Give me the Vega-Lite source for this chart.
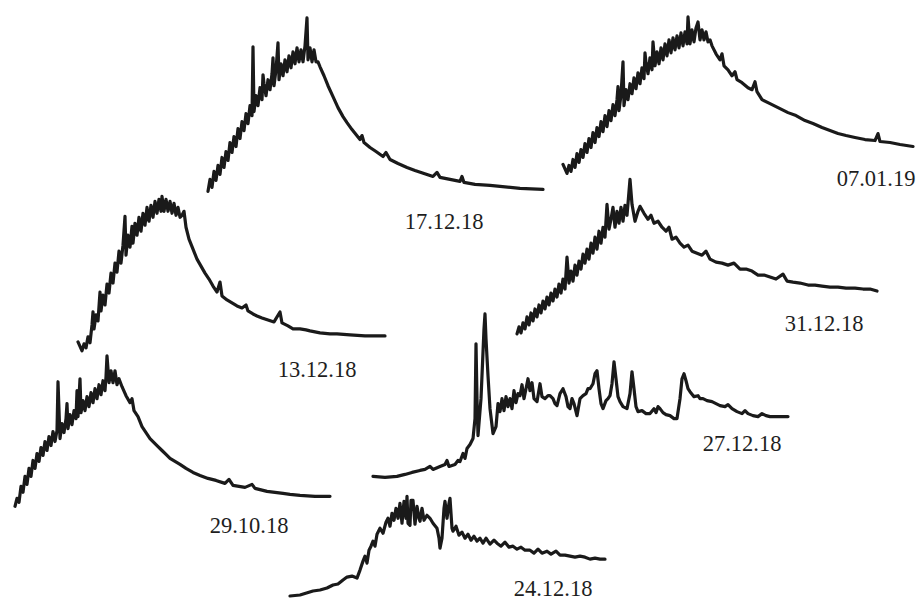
{
"$schema": "https://vega.github.io/schema/vega-lite/v6.json",
"width": 919, "height": 601,
"autosize": {"type": "fit", "contains": "padding"},
"padding": 0,
"background": "white",
"config": {"view": {"stroke": null}},
"layer": [
{
"data": {"values": [
{"s":"A","x":208,"y":192},{"s":"A","x":210,"y":180},{"s":"A","x":212,"y":188},{"s":"A","x":214,"y":172},{"s":"A","x":216,"y":181},{"s":"A","x":218,"y":166},{"s":"A","x":220,"y":175},{"s":"A","x":222,"y":158},{"s":"A","x":224,"y":168},{"s":"A","x":226,"y":152},{"s":"A","x":228,"y":161},{"s":"A","x":230,"y":143},{"s":"A","x":232,"y":153},{"s":"A","x":234,"y":137},{"s":"A","x":236,"y":147},{"s":"A","x":238,"y":129},{"s":"A","x":240,"y":139},{"s":"A","x":242,"y":122},{"s":"A","x":244,"y":131},{"s":"A","x":246,"y":114},{"s":"A","x":248,"y":124},{"s":"A","x":250,"y":106},{"s":"A","x":252,"y":116},{"s":"A","x":253,"y":47},{"s":"A","x":254,"y":112},{"s":"A","x":256,"y":96},{"s":"A","x":258,"y":106},{"s":"A","x":260,"y":88},{"s":"A","x":262,"y":100},{"s":"A","x":263,"y":75},{"s":"A","x":264,"y":84},{"s":"A","x":266,"y":96},{"s":"A","x":268,"y":80},{"s":"A","x":270,"y":90},{"s":"A","x":272,"y":74},{"s":"A","x":273,"y":58},{"s":"A","x":274,"y":86},{"s":"A","x":276,"y":70},{"s":"A","x":278,"y":43},{"s":"A","x":279,"y":80},{"s":"A","x":281,"y":64},{"s":"A","x":283,"y":76},{"s":"A","x":285,"y":60},{"s":"A","x":287,"y":72},{"s":"A","x":289,"y":56},{"s":"A","x":291,"y":68},{"s":"A","x":293,"y":52},{"s":"A","x":295,"y":64},{"s":"A","x":297,"y":48},{"s":"A","x":299,"y":62},{"s":"A","x":301,"y":50},{"s":"A","x":303,"y":62},{"s":"A","x":305,"y":46},{"s":"A","x":307,"y":18},{"s":"A","x":308,"y":60},{"s":"A","x":310,"y":48},{"s":"A","x":312,"y":62},{"s":"A","x":314,"y":50},{"s":"A","x":316,"y":62},{"s":"A","x":318,"y":62},{"s":"A","x":320,"y":67},{"s":"A","x":324,"y":76},{"s":"A","x":328,"y":86},{"s":"A","x":333,"y":97},{"s":"A","x":338,"y":108},{"s":"A","x":343,"y":117},{"s":"A","x":347,"y":123},{"s":"A","x":352,"y":130},{"s":"A","x":356,"y":135},{"s":"A","x":360,"y":140},{"s":"A","x":362,"y":136},{"s":"A","x":364,"y":143},{"s":"A","x":370,"y":148},{"s":"A","x":376,"y":152},{"s":"A","x":383,"y":157},{"s":"A","x":386,"y":153},{"s":"A","x":390,"y":160},{"s":"A","x":398,"y":164},{"s":"A","x":407,"y":168},{"s":"A","x":415,"y":171},{"s":"A","x":424,"y":174},{"s":"A","x":433,"y":177},{"s":"A","x":437,"y":173},{"s":"A","x":440,"y":178},{"s":"A","x":450,"y":180},{"s":"A","x":460,"y":182},{"s":"A","x":462,"y":177},{"s":"A","x":464,"y":183},{"s":"A","x":475,"y":185},{"s":"A","x":490,"y":186},{"s":"A","x":500,"y":187},{"s":"A","x":520,"y":189},{"s":"A","x":543,"y":190},

{"s":"B","x":563,"y":165},{"s":"B","x":567,"y":174},{"s":"B","x":569,"y":166},{"s":"B","x":571,"y":172},{"s":"B","x":573,"y":160},{"s":"B","x":575,"y":168},{"s":"B","x":577,"y":154},{"s":"B","x":579,"y":163},{"s":"B","x":581,"y":150},{"s":"B","x":583,"y":158},{"s":"B","x":585,"y":144},{"s":"B","x":587,"y":153},{"s":"B","x":589,"y":139},{"s":"B","x":591,"y":148},{"s":"B","x":593,"y":133},{"s":"B","x":595,"y":143},{"s":"B","x":597,"y":128},{"s":"B","x":599,"y":137},{"s":"B","x":601,"y":122},{"s":"B","x":603,"y":132},{"s":"B","x":605,"y":116},{"s":"B","x":607,"y":127},{"s":"B","x":609,"y":111},{"s":"B","x":611,"y":121},{"s":"B","x":613,"y":105},{"s":"B","x":615,"y":116},{"s":"B","x":617,"y":100},{"s":"B","x":618,"y":87},{"s":"B","x":619,"y":111},{"s":"B","x":621,"y":95},{"s":"B","x":623,"y":62},{"s":"B","x":624,"y":106},{"s":"B","x":626,"y":90},{"s":"B","x":628,"y":100},{"s":"B","x":630,"y":84},{"s":"B","x":632,"y":94},{"s":"B","x":634,"y":78},{"s":"B","x":636,"y":89},{"s":"B","x":638,"y":73},{"s":"B","x":640,"y":84},{"s":"B","x":642,"y":68},{"s":"B","x":644,"y":79},{"s":"B","x":645,"y":53},{"s":"B","x":646,"y":63},{"s":"B","x":648,"y":74},{"s":"B","x":650,"y":58},{"s":"B","x":652,"y":70},{"s":"B","x":653,"y":42},{"s":"B","x":655,"y":66},{"s":"B","x":657,"y":52},{"s":"B","x":659,"y":64},{"s":"B","x":661,"y":48},{"s":"B","x":663,"y":60},{"s":"B","x":665,"y":44},{"s":"B","x":667,"y":56},{"s":"B","x":669,"y":40},{"s":"B","x":671,"y":53},{"s":"B","x":673,"y":38},{"s":"B","x":675,"y":50},{"s":"B","x":677,"y":36},{"s":"B","x":679,"y":48},{"s":"B","x":681,"y":33},{"s":"B","x":683,"y":46},{"s":"B","x":685,"y":32},{"s":"B","x":687,"y":44},{"s":"B","x":688,"y":17},{"s":"B","x":690,"y":44},{"s":"B","x":692,"y":30},{"s":"B","x":694,"y":42},{"s":"B","x":696,"y":28},{"s":"B","x":698,"y":22},{"s":"B","x":700,"y":40},{"s":"B","x":702,"y":30},{"s":"B","x":704,"y":40},{"s":"B","x":706,"y":32},{"s":"B","x":708,"y":42},{"s":"B","x":710,"y":40},{"s":"B","x":712,"y":46},{"s":"B","x":716,"y":54},{"s":"B","x":720,"y":60},{"s":"B","x":722,"y":54},{"s":"B","x":724,"y":66},{"s":"B","x":728,"y":70},{"s":"B","x":732,"y":76},{"s":"B","x":735,"y":72},{"s":"B","x":737,"y":80},{"s":"B","x":742,"y":83},{"s":"B","x":748,"y":88},{"s":"B","x":752,"y":90},{"s":"B","x":755,"y":82},{"s":"B","x":757,"y":92},{"s":"B","x":762,"y":100},{"s":"B","x":770,"y":104},{"s":"B","x":778,"y":108},{"s":"B","x":788,"y":113},{"s":"B","x":796,"y":116},{"s":"B","x":805,"y":121},{"s":"B","x":813,"y":124},{"s":"B","x":822,"y":128},{"s":"B","x":830,"y":131},{"s":"B","x":838,"y":134},{"s":"B","x":846,"y":136},{"s":"B","x":855,"y":138},{"s":"B","x":865,"y":140},{"s":"B","x":875,"y":141},{"s":"B","x":878,"y":134},{"s":"B","x":880,"y":142},{"s":"B","x":890,"y":143},{"s":"B","x":900,"y":145},{"s":"B","x":913,"y":147},

{"s":"C","x":78,"y":343},{"s":"C","x":82,"y":352},{"s":"C","x":84,"y":345},{"s":"C","x":86,"y":349},{"s":"C","x":88,"y":338},{"s":"C","x":90,"y":344},{"s":"C","x":92,"y":326},{"s":"C","x":93,"y":313},{"s":"C","x":94,"y":330},{"s":"C","x":96,"y":316},{"s":"C","x":98,"y":322},{"s":"C","x":100,"y":293},{"s":"C","x":101,"y":312},{"s":"C","x":103,"y":296},{"s":"C","x":105,"y":306},{"s":"C","x":107,"y":285},{"s":"C","x":109,"y":294},{"s":"C","x":111,"y":274},{"s":"C","x":113,"y":284},{"s":"C","x":115,"y":264},{"s":"C","x":117,"y":273},{"s":"C","x":119,"y":252},{"s":"C","x":121,"y":264},{"s":"C","x":123,"y":246},{"s":"C","x":125,"y":217},{"s":"C","x":126,"y":256},{"s":"C","x":128,"y":236},{"s":"C","x":130,"y":248},{"s":"C","x":132,"y":227},{"s":"C","x":133,"y":244},{"s":"C","x":135,"y":224},{"s":"C","x":137,"y":236},{"s":"C","x":139,"y":218},{"s":"C","x":141,"y":232},{"s":"C","x":143,"y":214},{"s":"C","x":145,"y":226},{"s":"C","x":147,"y":208},{"s":"C","x":149,"y":222},{"s":"C","x":151,"y":206},{"s":"C","x":153,"y":218},{"s":"C","x":155,"y":202},{"s":"C","x":157,"y":214},{"s":"C","x":159,"y":200},{"s":"C","x":161,"y":212},{"s":"C","x":162,"y":197},{"s":"C","x":164,"y":212},{"s":"C","x":166,"y":200},{"s":"C","x":168,"y":212},{"s":"C","x":170,"y":202},{"s":"C","x":172,"y":214},{"s":"C","x":174,"y":204},{"s":"C","x":176,"y":216},{"s":"C","x":178,"y":208},{"s":"C","x":180,"y":218},{"s":"C","x":182,"y":216},{"s":"C","x":184,"y":212},{"s":"C","x":186,"y":228},{"s":"C","x":189,"y":240},{"s":"C","x":193,"y":250},{"s":"C","x":197,"y":260},{"s":"C","x":201,"y":267},{"s":"C","x":205,"y":274},{"s":"C","x":209,"y":280},{"s":"C","x":213,"y":287},{"s":"C","x":217,"y":293},{"s":"C","x":220,"y":283},{"s":"C","x":222,"y":297},{"s":"C","x":227,"y":301},{"s":"C","x":232,"y":304},{"s":"C","x":237,"y":307},{"s":"C","x":242,"y":309},{"s":"C","x":246,"y":306},{"s":"C","x":248,"y":312},{"s":"C","x":253,"y":315},{"s":"C","x":257,"y":317},{"s":"C","x":262,"y":319},{"s":"C","x":268,"y":321},{"s":"C","x":274,"y":323},{"s":"C","x":280,"y":313},{"s":"C","x":282,"y":324},{"s":"C","x":288,"y":327},{"s":"C","x":293,"y":330},{"s":"C","x":300,"y":330},{"s":"C","x":306,"y":331},{"s":"C","x":310,"y":332},{"s":"C","x":320,"y":334},{"s":"C","x":330,"y":335},{"s":"C","x":337,"y":335},{"s":"C","x":350,"y":336},{"s":"C","x":365,"y":337},{"s":"C","x":385,"y":337},

{"s":"D","x":517,"y":335},{"s":"D","x":519,"y":328},{"s":"D","x":521,"y":334},{"s":"D","x":523,"y":324},{"s":"D","x":525,"y":330},{"s":"D","x":527,"y":318},{"s":"D","x":529,"y":326},{"s":"D","x":531,"y":314},{"s":"D","x":533,"y":322},{"s":"D","x":535,"y":310},{"s":"D","x":537,"y":318},{"s":"D","x":539,"y":306},{"s":"D","x":541,"y":314},{"s":"D","x":543,"y":302},{"s":"D","x":545,"y":310},{"s":"D","x":547,"y":298},{"s":"D","x":549,"y":306},{"s":"D","x":551,"y":294},{"s":"D","x":553,"y":302},{"s":"D","x":555,"y":290},{"s":"D","x":557,"y":298},{"s":"D","x":559,"y":285},{"s":"D","x":561,"y":294},{"s":"D","x":563,"y":280},{"s":"D","x":565,"y":290},{"s":"D","x":567,"y":258},{"s":"D","x":569,"y":284},{"s":"D","x":571,"y":272},{"s":"D","x":573,"y":282},{"s":"D","x":575,"y":266},{"s":"D","x":577,"y":276},{"s":"D","x":579,"y":262},{"s":"D","x":581,"y":270},{"s":"D","x":583,"y":255},{"s":"D","x":585,"y":264},{"s":"D","x":587,"y":250},{"s":"D","x":589,"y":260},{"s":"D","x":591,"y":244},{"s":"D","x":593,"y":254},{"s":"D","x":595,"y":238},{"s":"D","x":597,"y":250},{"s":"D","x":599,"y":232},{"s":"D","x":601,"y":244},{"s":"D","x":603,"y":228},{"s":"D","x":605,"y":238},{"s":"D","x":607,"y":205},{"s":"D","x":609,"y":230},{"s":"D","x":611,"y":220},{"s":"D","x":613,"y":208},{"s":"D","x":615,"y":228},{"s":"D","x":617,"y":212},{"s":"D","x":619,"y":224},{"s":"D","x":621,"y":208},{"s":"D","x":623,"y":222},{"s":"D","x":625,"y":206},{"s":"D","x":627,"y":216},{"s":"D","x":630,"y":180},{"s":"D","x":632,"y":205},{"s":"D","x":635,"y":222},{"s":"D","x":638,"y":212},{"s":"D","x":640,"y":207},{"s":"D","x":644,"y":214},{"s":"D","x":648,"y":220},{"s":"D","x":651,"y":216},{"s":"D","x":654,"y":224},{"s":"D","x":658,"y":222},{"s":"D","x":662,"y":228},{"s":"D","x":666,"y":232},{"s":"D","x":669,"y":228},{"s":"D","x":672,"y":240},{"s":"D","x":676,"y":238},{"s":"D","x":680,"y":244},{"s":"D","x":684,"y":248},{"s":"D","x":688,"y":246},{"s":"D","x":692,"y":252},{"s":"D","x":697,"y":254},{"s":"D","x":702,"y":256},{"s":"D","x":706,"y":252},{"s":"D","x":710,"y":260},{"s":"D","x":716,"y":263},{"s":"D","x":722,"y":264},{"s":"D","x":728,"y":266},{"s":"D","x":734,"y":264},{"s":"D","x":740,"y":270},{"s":"D","x":746,"y":270},{"s":"D","x":752,"y":272},{"s":"D","x":758,"y":276},{"s":"D","x":764,"y":276},{"s":"D","x":770,"y":278},{"s":"D","x":776,"y":280},{"s":"D","x":783,"y":275},{"s":"D","x":787,"y":282},{"s":"D","x":793,"y":283},{"s":"D","x":800,"y":284},{"s":"D","x":808,"y":286},{"s":"D","x":815,"y":286},{"s":"D","x":822,"y":287},{"s":"D","x":830,"y":288},{"s":"D","x":838,"y":288},{"s":"D","x":846,"y":289},{"s":"D","x":855,"y":289},{"s":"D","x":863,"y":290},{"s":"D","x":870,"y":290},{"s":"D","x":877,"y":292},

{"s":"E","x":15,"y":508},{"s":"E","x":17,"y":500},{"s":"E","x":19,"y":504},{"s":"E","x":21,"y":488},{"s":"E","x":23,"y":494},{"s":"E","x":25,"y":478},{"s":"E","x":27,"y":486},{"s":"E","x":29,"y":470},{"s":"E","x":31,"y":478},{"s":"E","x":33,"y":462},{"s":"E","x":35,"y":470},{"s":"E","x":37,"y":455},{"s":"E","x":39,"y":463},{"s":"E","x":41,"y":449},{"s":"E","x":43,"y":457},{"s":"E","x":45,"y":443},{"s":"E","x":47,"y":452},{"s":"E","x":49,"y":438},{"s":"E","x":51,"y":447},{"s":"E","x":53,"y":433},{"s":"E","x":55,"y":443},{"s":"E","x":57,"y":432},{"s":"E","x":58,"y":383},{"s":"E","x":60,"y":440},{"s":"E","x":62,"y":425},{"s":"E","x":64,"y":434},{"s":"E","x":66,"y":420},{"s":"E","x":67,"y":405},{"s":"E","x":68,"y":430},{"s":"E","x":70,"y":416},{"s":"E","x":72,"y":426},{"s":"E","x":74,"y":412},{"s":"E","x":76,"y":420},{"s":"E","x":77,"y":392},{"s":"E","x":78,"y":418},{"s":"E","x":80,"y":380},{"s":"E","x":81,"y":414},{"s":"E","x":83,"y":402},{"s":"E","x":85,"y":412},{"s":"E","x":87,"y":398},{"s":"E","x":89,"y":408},{"s":"E","x":91,"y":394},{"s":"E","x":93,"y":404},{"s":"E","x":95,"y":390},{"s":"E","x":97,"y":400},{"s":"E","x":99,"y":386},{"s":"E","x":101,"y":396},{"s":"E","x":103,"y":382},{"s":"E","x":105,"y":392},{"s":"E","x":106,"y":378},{"s":"E","x":107,"y":357},{"s":"E","x":109,"y":384},{"s":"E","x":111,"y":372},{"s":"E","x":113,"y":384},{"s":"E","x":115,"y":372},{"s":"E","x":117,"y":386},{"s":"E","x":119,"y":380},{"s":"E","x":122,"y":388},{"s":"E","x":126,"y":397},{"s":"E","x":130,"y":404},{"s":"E","x":132,"y":400},{"s":"E","x":134,"y":412},{"s":"E","x":138,"y":418},{"s":"E","x":142,"y":428},{"s":"E","x":146,"y":434},{"s":"E","x":150,"y":440},{"s":"E","x":154,"y":444},{"s":"E","x":157,"y":447},{"s":"E","x":162,"y":452},{"s":"E","x":166,"y":456},{"s":"E","x":170,"y":460},{"s":"E","x":175,"y":463},{"s":"E","x":180,"y":466},{"s":"E","x":186,"y":470},{"s":"E","x":193,"y":474},{"s":"E","x":200,"y":477},{"s":"E","x":208,"y":480},{"s":"E","x":216,"y":482},{"s":"E","x":225,"y":485},{"s":"E","x":229,"y":481},{"s":"E","x":233,"y":487},{"s":"E","x":245,"y":489},{"s":"E","x":252,"y":486},{"s":"E","x":255,"y":490},{"s":"E","x":267,"y":493},{"s":"E","x":275,"y":494},{"s":"E","x":283,"y":495},{"s":"E","x":290,"y":496},{"s":"E","x":300,"y":497},{"s":"E","x":315,"y":498},{"s":"E","x":330,"y":498},

{"s":"F","x":373,"y":478},{"s":"F","x":385,"y":479},{"s":"F","x":397,"y":478},{"s":"F","x":405,"y":476},{"s":"F","x":412,"y":474},{"s":"F","x":420,"y":472},{"s":"F","x":425,"y":471},{"s":"F","x":430,"y":468},{"s":"F","x":433,"y":471},{"s":"F","x":440,"y":468},{"s":"F","x":445,"y":466},{"s":"F","x":447,"y":462},{"s":"F","x":449,"y":468},{"s":"F","x":455,"y":466},{"s":"F","x":458,"y":462},{"s":"F","x":460,"y":463},{"s":"F","x":463,"y":455},{"s":"F","x":465,"y":460},{"s":"F","x":467,"y":450},{"s":"F","x":470,"y":446},{"s":"F","x":473,"y":440},{"s":"F","x":475,"y":420},{"s":"F","x":476,"y":345},{"s":"F","x":477,"y":400},{"s":"F","x":478,"y":437},{"s":"F","x":481,"y":400},{"s":"F","x":484,"y":330},{"s":"F","x":485,"y":315},{"s":"F","x":486,"y":340},{"s":"F","x":488,"y":377},{"s":"F","x":490,"y":410},{"s":"F","x":493,"y":435},{"s":"F","x":496,"y":428},{"s":"F","x":498,"y":405},{"s":"F","x":500,"y":413},{"s":"F","x":502,"y":400},{"s":"F","x":504,"y":412},{"s":"F","x":506,"y":398},{"s":"F","x":508,"y":408},{"s":"F","x":510,"y":400},{"s":"F","x":512,"y":410},{"s":"F","x":514,"y":392},{"s":"F","x":516,"y":404},{"s":"F","x":518,"y":395},{"s":"F","x":520,"y":397},{"s":"F","x":522,"y":386},{"s":"F","x":524,"y":400},{"s":"F","x":526,"y":390},{"s":"F","x":528,"y":380},{"s":"F","x":530,"y":392},{"s":"F","x":532,"y":384},{"s":"F","x":534,"y":400},{"s":"F","x":537,"y":403},{"s":"F","x":540,"y":385},{"s":"F","x":542,"y":398},{"s":"F","x":545,"y":400},{"s":"F","x":548,"y":397},{"s":"F","x":550,"y":397},{"s":"F","x":553,"y":400},{"s":"F","x":555,"y":405},{"s":"F","x":557,"y":407},{"s":"F","x":560,"y":395},{"s":"F","x":563,"y":390},{"s":"F","x":566,"y":398},{"s":"F","x":568,"y":408},{"s":"F","x":570,"y":410},{"s":"F","x":572,"y":400},{"s":"F","x":574,"y":405},{"s":"F","x":577,"y":417},{"s":"F","x":580,"y":400},{"s":"F","x":583,"y":397},{"s":"F","x":586,"y":395},{"s":"F","x":588,"y":390},{"s":"F","x":590,"y":390},{"s":"F","x":593,"y":385},{"s":"F","x":595,"y":375},{"s":"F","x":597,"y":372},{"s":"F","x":599,"y":390},{"s":"F","x":601,"y":405},{"s":"F","x":603,"y":410},{"s":"F","x":606,"y":402},{"s":"F","x":608,"y":400},{"s":"F","x":610,"y":397},{"s":"F","x":612,"y":385},{"s":"F","x":614,"y":363},{"s":"F","x":616,"y":380},{"s":"F","x":618,"y":398},{"s":"F","x":620,"y":403},{"s":"F","x":623,"y":408},{"s":"F","x":627,"y":410},{"s":"F","x":630,"y":395},{"s":"F","x":632,"y":373},{"s":"F","x":634,"y":390},{"s":"F","x":636,"y":408},{"s":"F","x":638,"y":413},{"s":"F","x":642,"y":412},{"s":"F","x":646,"y":415},{"s":"F","x":650,"y":415},{"s":"F","x":654,"y":410},{"s":"F","x":656,"y":414},{"s":"F","x":658,"y":408},{"s":"F","x":660,"y":410},{"s":"F","x":663,"y":414},{"s":"F","x":666,"y":416},{"s":"F","x":670,"y":417},{"s":"F","x":674,"y":420},{"s":"F","x":677,"y":420},{"s":"F","x":680,"y":400},{"s":"F","x":682,"y":380},{"s":"F","x":684,"y":375},{"s":"F","x":686,"y":382},{"s":"F","x":688,"y":390},{"s":"F","x":690,"y":393},{"s":"F","x":694,"y":398},{"s":"F","x":698,"y":397},{"s":"F","x":700,"y":400},{"s":"F","x":703,"y":400},{"s":"F","x":707,"y":402},{"s":"F","x":712,"y":403},{"s":"F","x":716,"y":405},{"s":"F","x":720,"y":407},{"s":"F","x":725,"y":408},{"s":"F","x":728,"y":406},{"s":"F","x":732,"y":410},{"s":"F","x":737,"y":413},{"s":"F","x":742,"y":415},{"s":"F","x":745,"y":412},{"s":"F","x":748,"y":415},{"s":"F","x":753,"y":417},{"s":"F","x":758,"y":418},{"s":"F","x":762,"y":415},{"s":"F","x":766,"y":417},{"s":"F","x":770,"y":418},{"s":"F","x":778,"y":418},{"s":"F","x":788,"y":418},

{"s":"G","x":290,"y":598},{"s":"G","x":300,"y":597},{"s":"G","x":313,"y":593},{"s":"G","x":320,"y":592},{"s":"G","x":327,"y":590},{"s":"G","x":333,"y":587},{"s":"G","x":338,"y":586},{"s":"G","x":343,"y":582},{"s":"G","x":347,"y":579},{"s":"G","x":352,"y":578},{"s":"G","x":357,"y":580},{"s":"G","x":360,"y":572},{"s":"G","x":363,"y":563},{"s":"G","x":365,"y":558},{"s":"G","x":367,"y":565},{"s":"G","x":369,"y":552},{"s":"G","x":371,"y":548},{"s":"G","x":373,"y":543},{"s":"G","x":375,"y":548},{"s":"G","x":377,"y":536},{"s":"G","x":380,"y":530},{"s":"G","x":383,"y":535},{"s":"G","x":386,"y":524},{"s":"G","x":388,"y":520},{"s":"G","x":390,"y":528},{"s":"G","x":392,"y":515},{"s":"G","x":394,"y":522},{"s":"G","x":396,"y":510},{"s":"G","x":398,"y":520},{"s":"G","x":400,"y":505},{"s":"G","x":402,"y":525},{"s":"G","x":404,"y":503},{"s":"G","x":406,"y":520},{"s":"G","x":407,"y":498},{"s":"G","x":408,"y":525},{"s":"G","x":410,"y":527},{"s":"G","x":411,"y":502},{"s":"G","x":413,"y":502},{"s":"G","x":415,"y":526},{"s":"G","x":417,"y":508},{"s":"G","x":419,"y":520},{"s":"G","x":420,"y":523},{"s":"G","x":422,"y":510},{"s":"G","x":424,"y":522},{"s":"G","x":427,"y":517},{"s":"G","x":430,"y":520},{"s":"G","x":433,"y":525},{"s":"G","x":437,"y":530},{"s":"G","x":439,"y":540},{"s":"G","x":440,"y":550},{"s":"G","x":442,"y":540},{"s":"G","x":444,"y":510},{"s":"G","x":445,"y":503},{"s":"G","x":447,"y":520},{"s":"G","x":449,"y":505},{"s":"G","x":450,"y":500},{"s":"G","x":452,"y":530},{"s":"G","x":453,"y":533},{"s":"G","x":456,"y":528},{"s":"G","x":459,"y":537},{"s":"G","x":462,"y":534},{"s":"G","x":465,"y":540},{"s":"G","x":468,"y":536},{"s":"G","x":471,"y":542},{"s":"G","x":474,"y":538},{"s":"G","x":477,"y":543},{"s":"G","x":480,"y":540},{"s":"G","x":483,"y":545},{"s":"G","x":486,"y":540},{"s":"G","x":490,"y":546},{"s":"G","x":494,"y":542},{"s":"G","x":497,"y":545},{"s":"G","x":501,"y":548},{"s":"G","x":505,"y":544},{"s":"G","x":509,"y":549},{"s":"G","x":513,"y":548},{"s":"G","x":517,"y":551},{"s":"G","x":521,"y":549},{"s":"G","x":525,"y":552},{"s":"G","x":530,"y":552},{"s":"G","x":534,"y":555},{"s":"G","x":538,"y":551},{"s":"G","x":542,"y":555},{"s":"G","x":547,"y":553},{"s":"G","x":551,"y":556},{"s":"G","x":556,"y":553},{"s":"G","x":560,"y":557},{"s":"G","x":565,"y":557},{"s":"G","x":570,"y":558},{"s":"G","x":575,"y":559},{"s":"G","x":580,"y":558},{"s":"G","x":585,"y":559},{"s":"G","x":590,"y":561},{"s":"G","x":595,"y":560},{"s":"G","x":600,"y":561},{"s":"G","x":605,"y":561}
]},
"mark": {"type": "line", "color": "#1a1a1a", "strokeWidth": 3.2, "strokeJoin": "round", "strokeCap": "round"},
"encoding": {
"x": {"field": "x", "type": "quantitative", "scale": {"domain": [0, 919], "nice": false, "zero": false}, "axis": null},
"y": {"field": "y", "type": "quantitative", "scale": {"domain": [0, 601], "reverse": true, "nice": false, "zero": false}, "axis": null},
"detail": {"field": "s"}
}
},
{
"data": {"values": [
{"label":"17.12.18","x":444,"y":230},
{"label":"07.01.19","x":876,"y":187},
{"label":"13.12.18","x":317,"y":378},
{"label":"31.12.18","x":824,"y":332},
{"label":"27.12.18","x":742,"y":453},
{"label":"29.10.18","x":249,"y":535},
{"label":"24.12.18","x":553,"y":598}
]},
"mark": {"type": "text", "font": "Liberation Serif", "fontSize": 22.5, "color": "#1e1e1e", "align": "center", "baseline": "alphabetic"},
"encoding": {
"x": {"field": "x", "type": "quantitative", "scale": {"domain": [0, 919], "nice": false, "zero": false}, "axis": null},
"y": {"field": "y", "type": "quantitative", "scale": {"domain": [0, 601], "reverse": true, "nice": false, "zero": false}, "axis": null},
"text": {"field": "label"}
}
}
]
}
